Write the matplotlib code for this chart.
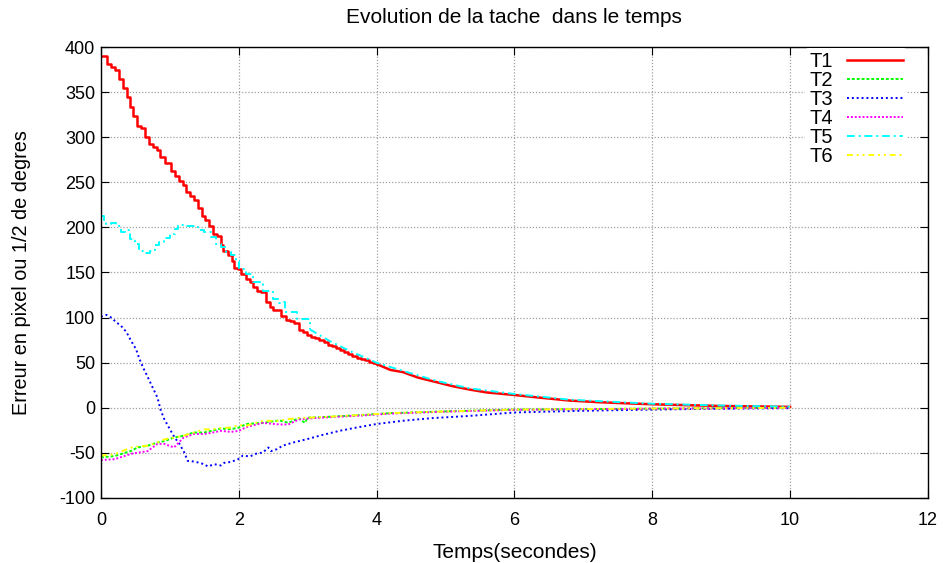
import numpy as np
import matplotlib.pyplot as plt

plt.rcParams['font.family'] = ['Liberation Sans', 'DejaVu Sans']
plt.rcParams['axes.unicode_minus'] = False

# T1 (red) - staircase part, then smooth tail
t1_steps_t = [0.0, 0.092, 0.15, 0.207, 0.261, 0.319, 0.377, 0.425, 0.473, 0.531,
              0.585, 0.647, 0.705, 0.754, 0.812, 0.860, 0.923, 1.019, 1.077, 1.130,
              1.188, 1.237, 1.295, 1.348, 1.406, 1.469, 1.517, 1.575, 1.623, 1.681,
              1.744, 1.778, 1.841, 1.899, 1.937, 1.99, 2.04, 2.10, 2.16, 2.21,
              2.27, 2.33, 2.39, 2.45, 2.50, 2.56, 2.62, 2.68, 2.74, 2.80,
              2.87, 2.93, 2.99, 3.05, 3.11, 3.17, 3.23, 3.29, 3.35, 3.41,
              3.47, 3.53, 3.59, 3.65, 3.71, 3.77, 3.83, 3.89, 3.95, 4.0]
t1_steps_y = [390, 381, 378, 375, 365, 355, 345, 333, 323, 312,
              310, 300, 293, 289, 286, 278, 271, 263, 257, 251,
              247, 239, 235, 230, 221, 213, 208, 201, 193, 190,
              180, 174, 169, 163, 155, 154, 148, 143, 139, 134,
              130, 128, 117, 112, 108, 108, 102, 97, 96, 94,
              86, 84, 81, 79, 77, 75, 73, 70, 68, 66,
              64, 62, 60, 57, 55.5, 54, 52.5, 51, 49.5, 48.5]
t1_tail_t = [4.0, 4.2, 4.38, 4.6, 4.86, 5.1, 5.35, 5.6, 5.98, 6.4, 6.8, 7.2, 7.6, 8.0, 8.5, 9.0, 9.5, 10.0]
t1_tail_y = [48.5, 42, 39.6, 33.5, 28.6, 24, 20.2, 17, 14.3, 11, 8, 6.3, 5, 3.9, 2.9, 2, 1.5, 1]

# T5 (cyan)
t5_steps_t = [0.0, 0.04, 0.08, 0.15, 0.22, 0.29, 0.37, 0.42, 0.49, 0.56,
              0.63, 0.71, 0.78, 0.85, 0.92, 1.0, 1.07, 1.12, 1.21, 1.31,
              1.41, 1.5, 1.6, 1.67, 1.74, 1.82, 1.89, 1.96, 2.01, 2.11,
              2.21, 2.35, 2.5, 2.59, 2.64, 2.67, 2.84, 3.03]
t5_steps_y = [213, 208, 204, 205, 202, 195, 197, 187, 182, 174,
              172, 174, 180, 184, 188.5, 193, 198.5, 203, 202, 201,
              197, 195, 189, 182, 178, 172.6, 169, 163, 154, 148.5,
              139, 130, 121, 116, 117.6, 106, 98.5, 87]
t5_tail_t = [3.03, 3.32, 3.61, 4.0, 4.38, 4.86, 5.35, 5.98, 6.8, 8.0, 9.0, 10.0]
t5_tail_y = [87, 74, 63, 50, 41, 30, 21.5, 15.5, 9, 4.5, 2.5, 1.2]

# T3 (blue)
t3_t = [0, 0.08, 0.15, 0.22, 0.29, 0.37, 0.44, 0.51, 0.56, 0.61, 0.68, 0.75, 0.82,
        0.87, 0.92, 1.0, 1.07, 1.14, 1.21, 1.26, 1.36, 1.5, 1.55, 1.65, 1.74, 1.79,
        1.89, 1.99, 2.06, 2.16, 2.26, 2.35, 2.43, 2.47, 2.55, 2.64, 2.79, 2.98, 3.22,
        3.46, 3.71, 4.0, 4.38, 4.8, 5.35, 6.0, 7.0, 8.0, 9.0, 10.0]
t3_y = [101, 103, 100, 95, 91, 84, 74, 65, 54, 45, 34, 22.6, 11.5,
        -3.3, -12.6, -23.7, -33, -40, -49.6, -59, -59.6, -62.6, -65, -62.6, -64, -61,
        -60, -57, -53, -54, -50.7, -49.6, -44, -48, -46, -42, -38.5, -35, -30,
        -25.6, -21.9, -18, -14.4, -11.5, -9, -5.2, -3.3, -2, -1, -0.5]

# T2 (green), T4 (magenta), T6 (yellow)
t2_t = [0, 0.2, 0.44, 0.53, 0.68, 0.82, 0.92, 1.06, 1.2, 1.35, 1.5, 1.6, 1.74, 1.89,
        2.0, 2.11, 2.35, 2.59, 2.72, 2.87, 2.96, 3.0, 3.3, 3.8, 4.19, 5, 6, 7, 8, 9, 10]
t2_y = [-55, -53.5, -47.8, -44, -42, -38.5, -37, -33, -31, -27.4, -27.4, -25.6, -23, -23.7,
        -22, -18, -16.7, -14, -16.7, -11.5, -16.7, -11, -10, -8, -6, -4, -2, -1.5, -1, -0.5, 0]

t4_t = [0, 0.2, 0.44, 0.68, 0.82, 0.92, 1.06, 1.2, 1.35, 1.5, 1.6, 1.74, 1.89, 2.0,
        2.11, 2.35, 2.59, 2.72, 2.87, 3.0, 3.3, 3.8, 4.19, 5, 6, 7, 8, 9, 10]
t4_y = [-58, -57, -51, -48, -40, -40, -44, -33, -29, -29, -27.8, -25.6, -26.7, -25.6,
        -21.5, -16.7, -18.5, -18.5, -13, -12, -10.5, -8.5, -6.5, -4.3, -2.3, -1.6, -1, -0.6, 0]

t6_t = [0, 0.2, 0.44, 0.53, 0.68, 0.82, 0.92, 1.06, 1.2, 1.35, 1.5, 1.6, 1.74, 1.89,
        2.0, 2.11, 2.35, 2.59, 2.72, 2.87, 3.0, 3.3, 3.8, 4.19, 5, 6, 7, 8, 9, 10]
t6_y = [-53, -51.5, -44, -43, -42, -38.5, -35, -33, -31, -27.4, -24, -24, -22.5, -22,
        -19, -20, -14.4, -14.4, -12.5, -11.5, -11, -10, -7.8, -6, -4, -2, -1.4, -0.9, -0.5, 0]

fig = plt.figure(figsize=(9.43, 5.63), dpi=100)
ax = fig.add_axes([0.107, 0.1155, 0.877, 0.801])

lw = 1.4
ax.plot(t1_steps_t, t1_steps_y, color='#ff0000', lw=1.8, drawstyle='steps-post', label='T1')
ax.plot(t1_tail_t, t1_tail_y, color='#ff0000', lw=1.8)
ax.plot(t2_t, t2_y, color='#00ff00', lw=lw, ls=(0, (1.5, 1)), label='T2')
ax.plot(t3_t, t3_y, color='#0000ff', lw=lw, ls=(0, (1, 1.5)), label='T3')
ax.plot(t4_t, t4_y, color='#ff00ff', lw=lw, ls=(0, (1, 1)), label='T4')
ax.plot(t5_steps_t, t5_steps_y, color='#00ffff', lw=lw, ls=(0, (4, 2, 1, 2)),
        drawstyle='steps-post', label='T5')
ax.plot(t5_tail_t, t5_tail_y, color='#00ffff', lw=lw, ls=(0, (4, 2, 1, 2)))
ax.plot(t6_t, t6_y, color='#ffff00', lw=lw, ls=(0, (3, 2, 1, 2, 1, 2)), label='T6')

ax.set_xlim(0, 12)
ax.set_ylim(-100, 400)
ax.set_xticks(np.arange(0, 13, 2))
ax.set_yticks(np.arange(-100, 401, 50))
ax.tick_params(direction='in', length=6, top=True, right=True, labelsize=13)
ax.tick_params(axis='x', pad=10)
ax.tick_params(axis='y', pad=4)
ax.grid(True, color='#a0a0a0', ls=(0, (1, 1.5)), lw=0.9)
ax.set_axisbelow(True)
for s in ax.spines.values():
    s.set_linewidth(1.0)

ax.set_title('Evolution de la tache  dans le temps', fontsize=15, pad=17)
ax.set_xlabel('Temps(secondes)', fontsize=15, labelpad=10)
ax.set_ylabel('Erreur en pixel ou 1/2 de degres', fontsize=14.3, labelpad=20)

leg = ax.legend(loc='upper right', bbox_to_anchor=(0.975, 0.998), markerfirst=False,
                frameon=True, fontsize=14.5, handlelength=2.8, labelspacing=0.0,
                borderpad=0.2, handletextpad=0.7, borderaxespad=0)
leg.get_frame().set_edgecolor('none')
leg.get_frame().set_facecolor('white')
leg.get_frame().set_alpha(1)

fig.savefig('out.png', dpi=100)
